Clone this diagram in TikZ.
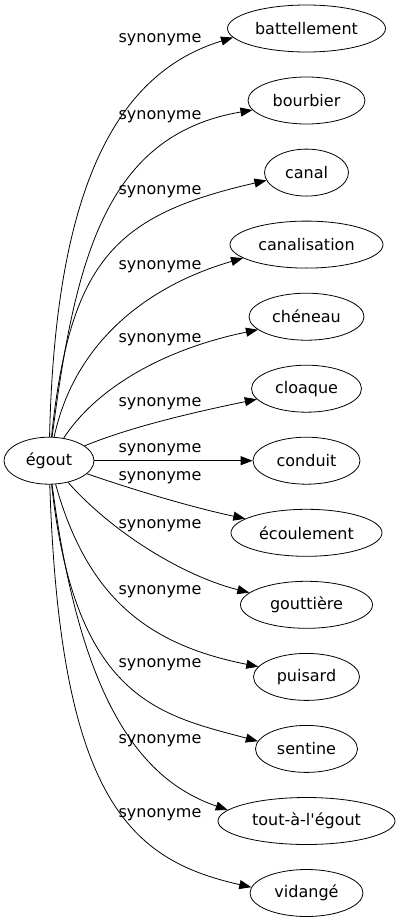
\documentclass[tikz,border=0pt]{standalone}
\usepackage{fontspec}
\setmainfont{DejaVu Sans}[Ligatures=TeXOff]
\usepackage{tikz}
\usetikzlibrary{arrows.meta,shapes.geometric}

\begin{document}
\begin{tikzpicture}[x=1pt,y=-1pt,
        word/.style={ellipse,draw,line width=0.8pt,inner sep=0pt,minimum height=47pt,font=\fontsize{16}{19}\selectfont},
        syn/.style={inner sep=0pt,font=\fontsize{16}{19}\selectfont},
        rel/.style={-{Triangle[length=12pt,width=9pt]},line width=0.8pt}]
        \useasboundingbox (0,0) rectangle (400,923);

        % source word
        \node[word,minimum width=90pt] (egout) at (49,460.7) {égout};

        % synonym words
        \node[word,minimum width=158pt] (battellement) at (306.5,28.5) {battellement};
        \node[word,minimum width=117pt] (bourbier) at (306.5,100.5) {bourbier};
        \node[word,minimum width=84pt] (canal) at (306.5,172.6) {canal};
        \node[word,minimum width=153pt] (canalisation) at (306.5,244.6) {canalisation};
        \node[word,minimum width=115pt] (cheneau) at (306.5,316.7) {chéneau};
        \node[word,minimum width=110pt] (cloaque) at (306.5,388.7) {cloaque};
        \node[word,minimum width=107pt] (conduit) at (306.5,460.7) {conduit};
        \node[word,minimum width=151pt] (ecoulement) at (306.5,532.8) {écoulement};
        \node[word,minimum width=132pt] (gouttiere) at (306.5,604.8) {gouttière};
        \node[word,minimum width=106pt] (puisard) at (306.5,676.9) {puisard};
        \node[word,minimum width=102pt] (sentine) at (306.5,748.9) {sentine};
        \node[word,minimum width=177pt] (toutalegout) at (306.5,821) {tout-à-l'égout};
        \node[word,minimum width=113pt] (vidange) at (306.5,893) {vidangé};

        % edge labels
        \node[syn] (syn1) at (160,40) {synonyme};
        \node[syn] (syn2) at (160,117) {synonyme};
        \node[syn] (syn3) at (160,192) {synonyme};
        \node[syn] (syn4) at (160,267) {synonyme};
        \node[syn] (syn5) at (160,340) {synonyme};
        \node[syn] (syn6) at (160,404) {synonyme};
        \node[syn] (syn7) at (160,450) {synonyme};
        \node[syn] (syn8) at (160,478) {synonyme};
        \node[syn] (syn9) at (160,526) {synonyme};
        \node[syn] (syn10) at (160,592) {synonyme};
        \node[syn] (syn11) at (160,665) {synonyme};
        \node[syn] (syn12) at (160,741) {synonyme};
        \node[syn] (syn13) at (160,815) {synonyme};

        % arcs going up
        \draw[rel] (egout) .. controls (55,200) and (110,75) .. (battellement.187);
        \draw[rel] (egout) .. controls (75,260) and (105,135) .. (bourbier.190);
        \draw[rel] (egout) .. controls (70,260) and (115,215) .. (canal.191);
        \draw[rel] (egout) .. controls (75,340) and (150,285) .. (canalisation.192);
        \draw[rel] (egout) .. controls (95,390) and (160,350) .. (cheneau.195);
        \draw[rel] (egout) .. controls (130,427) and (195,412) .. (cloaque.192);

        % straight arc
        \draw[rel] (egout) -- (conduit);

        % arcs going down
        \draw[rel] (egout) .. controls (140,492) and (195,508) .. (ecoulement.167);
        \draw[rel] (egout) .. controls (110,530) and (180,575) .. (gouttiere.168);
        \draw[rel] (egout) .. controls (88,600) and (150,645) .. (puisard.168);
        \draw[rel] (egout) .. controls (75,700) and (160,715) .. (sentine.171);
        \draw[rel] (egout) .. controls (80,700) and (140,780) .. (toutalegout.172);
        \draw[rel] (egout) .. controls (60,800) and (130,860) .. (vidange.174);
\end{tikzpicture}
\end{document}
